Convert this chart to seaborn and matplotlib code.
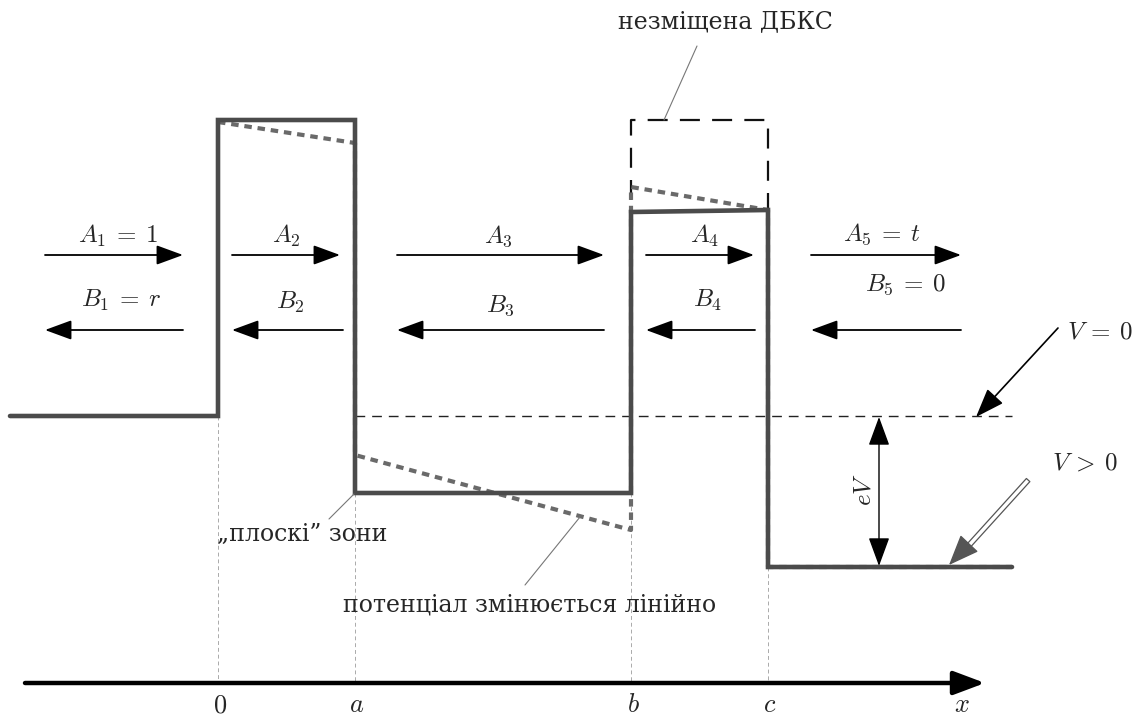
import matplotlib.pyplot as plt
import seaborn as sns
from matplotlib.patches import FancyArrowPatch

# --- data (diagram units: pixels of the 1143x717 picture, y grows downward) ---
boundary_labels = ['$0$', '$a$', '$b$', '$c$']
boundary_x = [218, 355, 631, 768]
boundary_floor = [416, 493, 493, 567]      # where the thin guide lines start

# flat-band potential profile (solid)
flat_x = [10, 218, 218, 355, 355, 631, 631, 768, 768, 1012]
flat_y = [416, 416, 120, 120, 493, 493, 212, 210, 567, 567]

# potential with linear drop under bias (dashed)
bias_x = [218, 355, 355, 631, 631, 768, 768, 1012]
bias_y = [122, 143, 455, 530, 187, 210, 567, 567]

# unshifted barrier outline (незміщена ДБКС)
dbks_x = [631, 631, 768, 768]
dbks_y = [200, 120, 120, 210]

# V = 0 reference level
ref_x = [355, 1012]
ref_y = [416, 416]

# incident / reflected amplitudes
right_start = [45, 232, 397, 646, 811]
right_end = [183, 340, 604, 754, 961]
left_start = [183, 343, 604, 755, 961]
left_end = [45, 232, 397, 646, 811]
arrow_right_y = 255
arrow_left_y = 330
a_labels = [r'$A_1 \:=\: 1$', '$A_2$', '$A_3$', '$A_4$', r'$A_5 \:=\: t$']
a_label_x = [118, 286, 498, 705, 882]
a_label_y = [236, 236, 236, 236, 234]
b_labels = [r'$B_1 \:=\: r$', '$B_2$', '$B_3$', '$B_4$', r'$B_5 \:=\: 0$']
b_label_x = [121, 290, 500, 708, 905]
b_label_y = [300, 302, 306, 300, 285]

axis_y = 683
axis_x = [25, 985]
axis_label_y = 705

sns.set_theme(style='white')
plt.rcParams['mathtext.fontset'] = 'cm'
plt.rcParams['font.family'] = ['DejaVu Serif', 'DejaVu Sans']

fig = plt.figure(figsize=(11.43, 7.17), dpi=100)
ax = fig.add_axes([0, 0, 1, 1])
ax.set_xlim(0, 1143)
ax.set_ylim(717, 0)
ax.axis('off')

profile_col = '#4b4b4b'
bias_col = '#6a6a6a'
text_col = '#262626'

# thin vertical guides down to the x axis
for bx, by in zip(boundary_x, boundary_floor):
    ax.plot([bx, bx], [by, axis_y], color='#aaaaaa', lw=0.7, ls=(0, (4, 3)))

# reference level V = 0
ax.plot(ref_x, ref_y, color='#222222', lw=1.0, ls=(0, (7, 5)))

# unshifted barrier
ax.plot(dbks_x, dbks_y, color='#111111', lw=1.6, ls=(0, (9, 5.5)))

# biased profile, then flat profile on top
sns.lineplot(x=bias_x, y=bias_y, sort=False, estimator=None, ax=ax,
             color=bias_col, lw=3.0, ls=(0, (1.8, 1.4)))
sns.lineplot(x=flat_x, y=flat_y, sort=False, estimator=None, ax=ax,
             color=profile_col, lw=3.3, solid_joinstyle='miter')

# amplitude arrows
arr = dict(arrowstyle='-|>,head_length=1.5,head_width=0.55', color='black',
           lw=1.3, mutation_scale=11, shrinkA=0, shrinkB=0)
for x0, x1 in zip(right_start, right_end):
    ax.annotate('', xy=(x1, arrow_right_y), xytext=(x0, arrow_right_y), arrowprops=arr)
for x0, x1 in zip(left_start, left_end):
    ax.annotate('', xy=(x1, arrow_left_y), xytext=(x0, arrow_left_y), arrowprops=arr)
for lab, lx, ly in zip(a_labels, a_label_x, a_label_y):
    ax.text(lx, ly, lab, fontsize=18, ha='center', va='center')
for lab, lx, ly in zip(b_labels, b_label_x, b_label_y):
    ax.text(lx, ly, lab, fontsize=18, ha='center', va='center')

# x axis
ax.annotate('', xy=(axis_x[1], axis_y), xytext=(axis_x[0], axis_y),
            arrowprops=dict(arrowstyle='-|>,head_length=1.2,head_width=0.45',
                            color=profile_col, lw=3.2, mutation_scale=16,
                            shrinkA=0, shrinkB=0, fc='black', ec='black'))
for lab, bx in zip(boundary_labels, boundary_x):
    ax.text(bx + 2, axis_label_y, lab, fontsize=19, ha='center', va='center')
ax.text(962, axis_label_y, '$x$', fontsize=19, ha='center', va='center')

# eV double arrow
eV_x = 879
ax.annotate('', xy=(eV_x, ref_y[0] + 1), xytext=(eV_x, flat_y[-1] - 1),
            arrowprops=dict(arrowstyle='<|-|>,head_length=1.5,head_width=0.55',
                            color='black', lw=1.0, mutation_scale=12,
                            shrinkA=0, shrinkB=0))
ax.text(864, 490, '$eV$', fontsize=18, rotation=90, ha='center', va='center')

# V = 0 pointer
ax.annotate('', xy=(976, 417), xytext=(1058, 328),
            arrowprops=dict(arrowstyle='-|>,head_length=1.5,head_width=0.55',
                            color='black', lw=1.2, mutation_scale=12,
                            shrinkA=0, shrinkB=0))
ax.text(1100, 332, r'$V \:=\: 0$', fontsize=18, ha='center', va='center')

# V > 0 hollow pointer
ax.add_patch(FancyArrowPatch((1030, 478), (962, 553),
                             arrowstyle='simple,head_length=0.01,head_width=0.3,tail_width=0.28',
                             mutation_scale=12, fc='white', ec='#555555', lw=0.9))
ax.annotate('', xy=(949, 565), xytext=(965, 548),
            arrowprops=dict(arrowstyle='-|>,head_length=1.5,head_width=0.6',
                            color='#555555', lw=1.0, mutation_scale=13,
                            shrinkA=0, shrinkB=0))
ax.text(1085, 463, r'$V \:>\: 0$', fontsize=18, ha='center', va='center')

# annotations
ax.text(725, 22, 'незміщена ДБКС', fontsize=17, color=text_col, ha='center', va='center')
ax.plot([697, 664], [46, 120], color='#777777', lw=0.8)

ax.text(302, 534, '„плоскі” зони', fontsize=17, color=text_col, ha='center', va='center')
ax.plot([354, 329], [494, 519], color='#777777', lw=0.8)

ax.text(530, 605, 'потенціал змінюється лінійно', fontsize=17, color=text_col,
        ha='center', va='center')
ax.plot([525, 580], [585, 517], color='#777777', lw=0.8)

fig.savefig('out.png', dpi=100)
